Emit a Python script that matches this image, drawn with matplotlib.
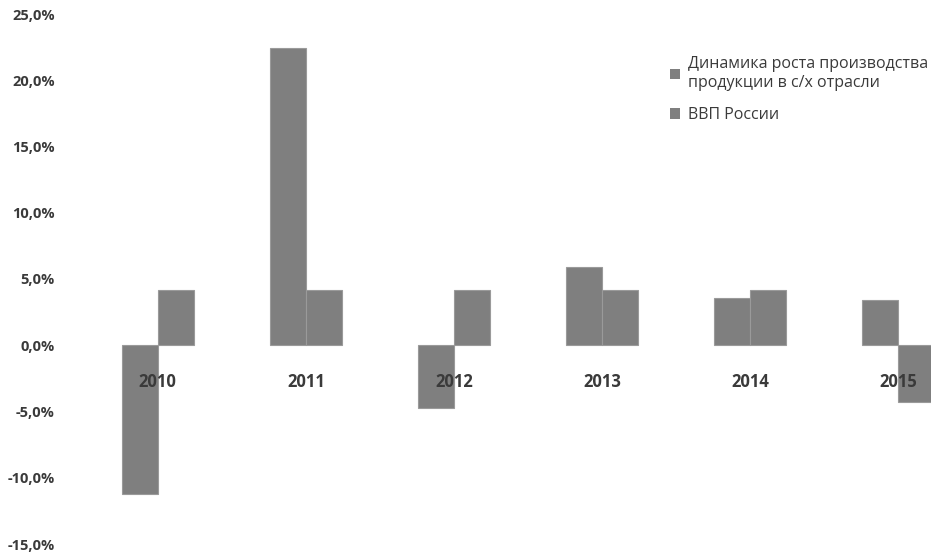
import numpy as np
import matplotlib
matplotlib.use("Agg")
import matplotlib.pyplot as plt
from matplotlib.patches import Patch
from matplotlib.ticker import FuncFormatter

# Данные (в процентах)
years = ["2010", "2011", "2012", "2013", "2014", "2015"]
agri_growth = [-11.2, 22.4, -4.7, 5.9, 3.6, 3.4]
gdp_russia = [4.2, 4.2, 4.2, 4.2, 4.2, -4.3]
series_names = ["Динамика роста производства\nпродукции в с/х отрасли", "ВВП России"]
y_ticks = [-15, -10, -5, 0, 5, 10, 15, 20, 25]

plt.rcParams['font.family'] = ['Open Sans', 'DejaVu Sans']

bar_color = '#7f7f7f'
text_color = '#3a3a3a'

fig = plt.figure(figsize=(9.31, 5.53), dpi=100, facecolor='white')
ax = fig.add_axes([0.090, 1 - 544 / 553, 0.910, 530 / 553])

x = np.arange(len(years))
w = 0.245
ax.bar(x - w / 2, agri_growth, width=w, color=bar_color, edgecolor='#9a9a9a', linewidth=0.8)
ax.bar(x + w / 2, gdp_russia, width=w, color=bar_color, edgecolor='#9a9a9a', linewidth=0.8)

ax.set_ylim(-15, 25)
ax.set_xlim(-0.5, 5.223)
ax.set_yticks(y_ticks)
ax.yaxis.set_major_formatter(FuncFormatter(lambda v, p: f"{v:.1f}%".replace('.', ',')))
ax.tick_params(axis='y', length=0, pad=21, labelsize=10.5, colors=text_color)

# подписи лет у нулевой линии
ax.set_xticks(x)
ax.set_xticklabels(years)
ax.spines['bottom'].set_position(('data', 0))
for s in ['top', 'right', 'left', 'bottom']:
    ax.spines[s].set_visible(False)
ax.tick_params(axis='x', length=0, pad=20, labelsize=12, colors=text_color)
for lbl in ax.get_xticklabels() + ax.get_yticklabels():
    lbl.set_fontweight('bold')

handles = [Patch(facecolor=bar_color, edgecolor='none') for _ in series_names]
leg = fig.legend(handles, series_names, loc='upper left', bbox_to_anchor=(662 / 931, 1 - 48 / 553),
                 frameon=False, fontsize=11.5, handlelength=0.65, handleheight=0.65,
                 handletextpad=0.45, labelspacing=1.0, borderpad=0)
for t in leg.get_texts():
    t.set_color(text_color)
    t.set_linespacing(1.25)

fig.savefig("out.png", dpi=100, facecolor='white')
